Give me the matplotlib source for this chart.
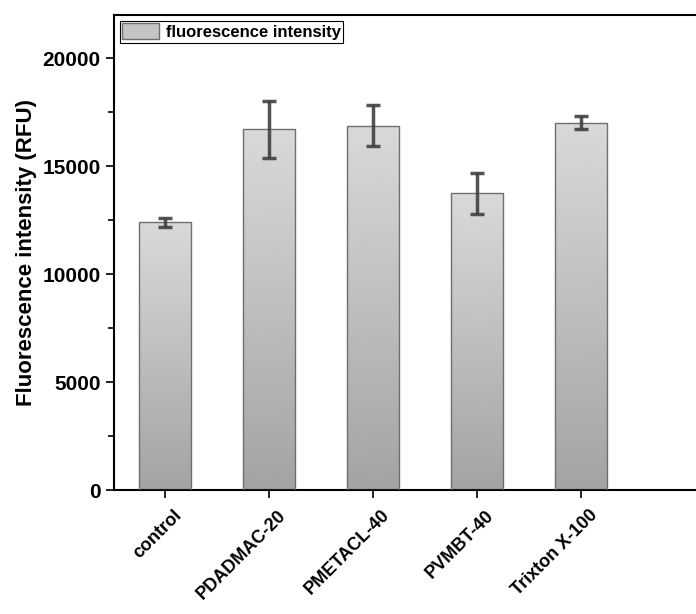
import matplotlib
matplotlib.use("Agg")
import matplotlib.pyplot as plt
import matplotlib.transforms as mtransforms
import numpy as np
from matplotlib.patches import Rectangle
from matplotlib.ticker import MultipleLocator

# --- Data ---
categories = ["control", "PDADMAC-20", "PMETACL-40", "PVMBT-40", "Trixton X-100"]
intensity = [12400, 16700, 16880, 13740, 17020]
errors = [210, 1330, 950, 960, 310]
legend_label = "fluorescence intensity"

plt.rcParams.update({
    "font.family": ["Liberation Sans", "DejaVu Sans"],
    "font.weight": "bold",
    "axes.labelweight": "bold",
})

fig = plt.figure(figsize=(6.96, 6.14), dpi=100)
ax = fig.add_axes([114 / 696, 124 / 614, 592 / 696, 475 / 614])

x = np.arange(len(categories))
width = 0.5
grad = np.linspace(0.64, 0.85, 256).reshape(-1, 1)

for xi, h in zip(x, intensity):
    rect = Rectangle((xi - width / 2, 0), width, h, facecolor="none",
                     edgecolor="#6e6e6e", linewidth=1.0, zorder=3)
    ax.add_patch(rect)
    im = ax.imshow(grad, cmap="gray", vmin=0, vmax=1, aspect="auto",
                   origin="lower", extent=(xi - width / 2, xi + width / 2, 0, h),
                   zorder=2)
    im.set_clip_path(rect)

ax.errorbar(x, intensity, yerr=errors, fmt="none", ecolor="#404040",
            elinewidth=2.5, capsize=5, capthick=2.5, alpha=0.9, zorder=4)

ax.set_xlim(-0.49, 5.2)
ax.set_ylim(0, 22000)
ax.set_xticks(x)
ax.yaxis.set_major_locator(MultipleLocator(5000))
ax.yaxis.set_minor_locator(MultipleLocator(2500))
ax.tick_params(axis="y", which="major", direction="out", length=6, width=1.2,
               labelsize=15)
ax.tick_params(axis="y", which="minor", direction="out", length=4, width=1.2)
ax.tick_params(axis="x", which="major", direction="out", length=6, width=1.2,
               pad=6)
ax.set_xticklabels(categories, rotation=45, ha="right", rotation_mode="anchor",
                   fontsize=13, fontweight="bold")
# nudge rotated labels to the right, as in the original
shift = mtransforms.ScaledTranslation(8 / 100, 0, fig.dpi_scale_trans)
for lbl in ax.get_xticklabels():
    lbl.set_transform(lbl.get_transform() + shift)
ax.set_ylabel("Fluorescence intensity (RFU)", fontsize=16, fontweight="bold",
              labelpad=4)
for s in ax.spines.values():
    s.set_linewidth(1.5)

handle = Rectangle((0, 0), 1, 1, facecolor="#c4c4c4", edgecolor="#6e6e6e",
                   linewidth=1.0)
leg = ax.legend([handle], [legend_label], loc="upper left",
                bbox_to_anchor=(0.0, 1.0), fancybox=False, framealpha=1,
                edgecolor="black", borderpad=0.15, handlelength=2.2,
                handleheight=1.1, handletextpad=0.4, borderaxespad=0.35,
                prop={"size": 12, "weight": "bold"})
leg.get_frame().set_linewidth(0.8)

fig.savefig("out.png", dpi=100)
